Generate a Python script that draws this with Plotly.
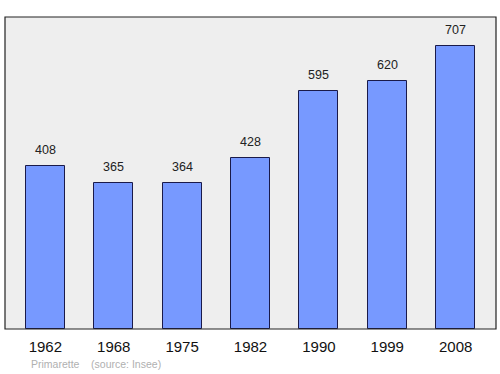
import plotly.graph_objects as go

years = ["1962", "1968", "1975", "1982", "1990", "1999", "2008"]
population = [408, 365, 364, 428, 595, 620, 707]

fig = go.Figure()
fig.add_trace(go.Bar(
    x=list(range(len(years))), y=population,
    width=0.57,
    marker=dict(color="#7799ff", line=dict(color="#1a1a4a", width=1)),
    hoverinfo="skip",
))
for i, v in enumerate(population):
    fig.add_annotation(x=i, y=v, text=str(v), showarrow=False, yanchor="bottom", yshift=7,
                       font=dict(family="Liberation Sans, Arial, sans-serif", size=12.5, color="#222222"))

fig.update_layout(
    width=500, height=374,
    margin=dict(l=5, r=4, t=17, b=45),
    paper_bgcolor="white", plot_bgcolor="#eeeeee",
    showlegend=False,
    bargap=0,
    xaxis=dict(range=[-0.59, 6.59], tickmode="array", tickvals=list(range(len(years))),
               ticktext=years, showgrid=False, zeroline=False, ticks="",
               ticklabelstandoff=7,
               tickfont=dict(family="Liberation Sans, Arial, sans-serif", size=15, color="#111111"),
               showline=False),
    yaxis=dict(range=[0, 780], showgrid=False, zeroline=False, showticklabels=False, showline=False),
)
fig.add_shape(type="rect", xref="paper", yref="paper", x0=0, x1=1, y0=0, y1=1,
              line=dict(color="#222222", width=1.2))
fig.add_annotation(text="Primarette &nbsp;&nbsp;&nbsp;(source: Insee)", xref="paper", yref="paper",
                   x=0.048, y=-0.088, xanchor="left", yanchor="top", showarrow=False,
                   font=dict(family="Liberation Sans, Arial, sans-serif", size=10.5, color="#b0b0b0"))

fig.write_html("out.html")
